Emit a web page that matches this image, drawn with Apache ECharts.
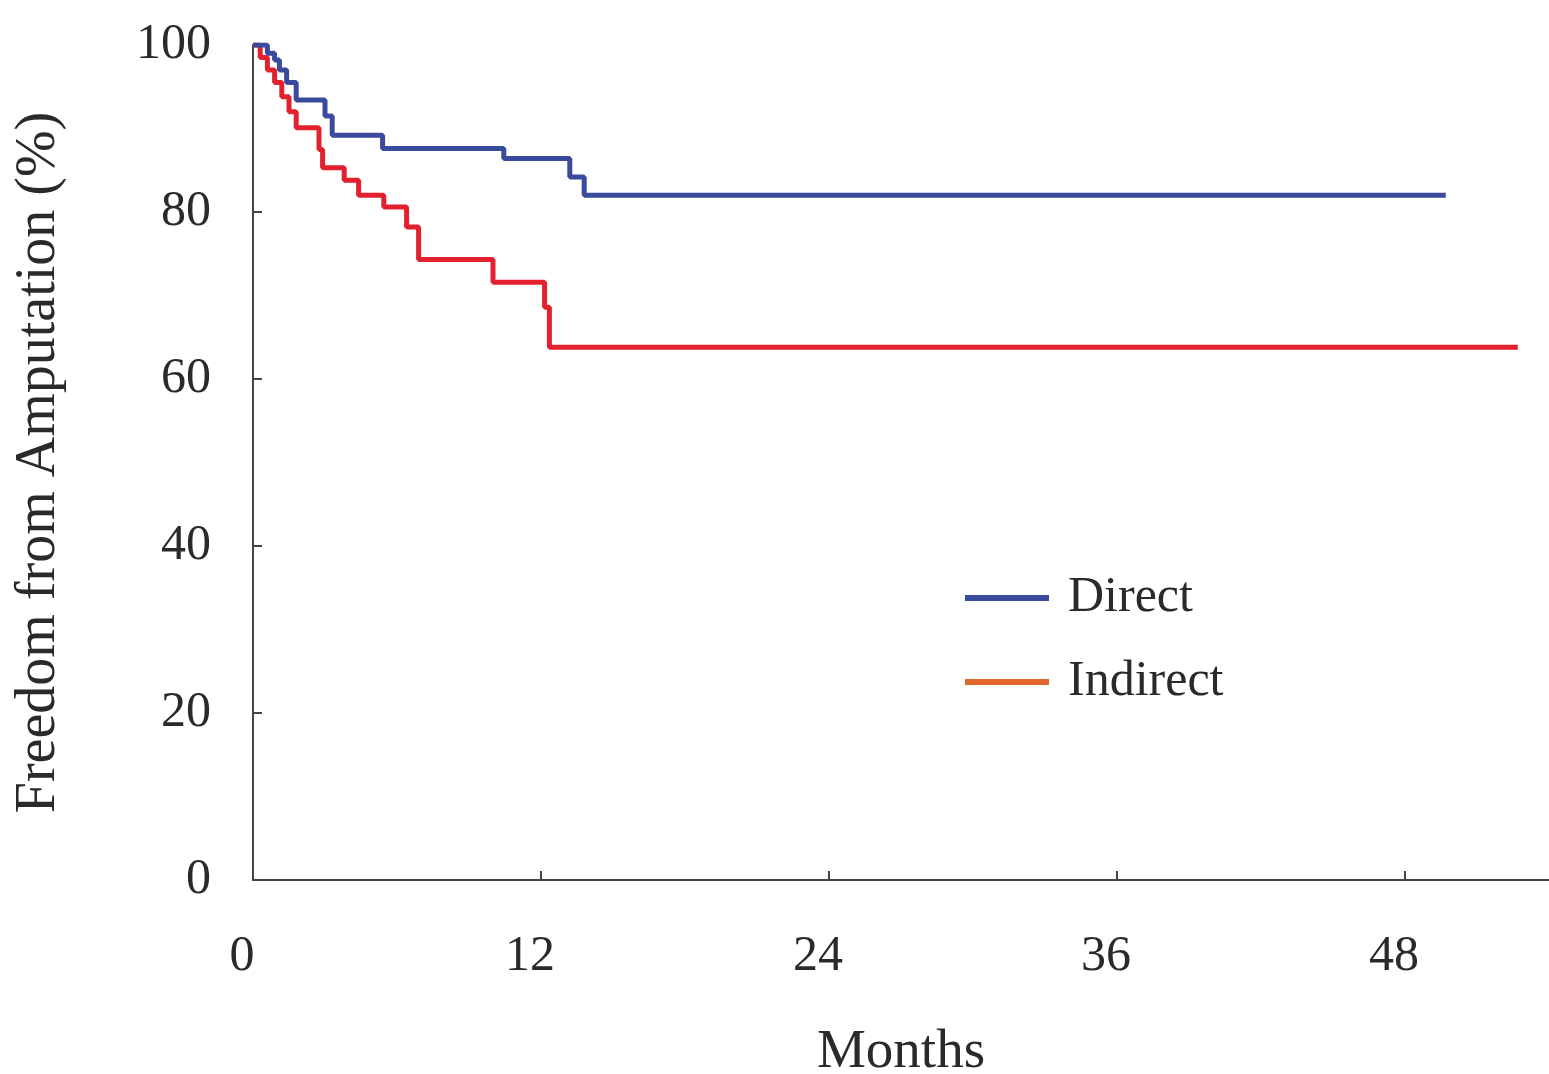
<!DOCTYPE html>
<html>
<head>
<meta charset="utf-8">
<script src="https://cdn.jsdelivr.net/npm/echarts@6/dist/echarts.min.js"></script>
<style>html,body{margin:0;padding:0;background:#fff;}#c{width:1549px;height:1074px;}</style>
</head>
<body>
<div id="c"></div>
<script>
// Kaplan-Meier step data (months, freedom from amputation %)
const directTime = [0, 0.6, 0.9, 1.1, 1.4, 1.8, 3.0, 3.3, 5.4, 10.45, 13.2, 13.8, 49.7];
const directSurv = [100, 99, 98.2, 97, 95.5, 93.4, 91.5, 89.2, 87.6, 86.4, 84.2, 82.0, 82.0];
const indirectTime = [0, 0.3, 0.6, 0.9, 1.2, 1.5, 1.8, 2.75, 2.9, 3.8, 4.4, 5.45, 6.4, 6.9, 10.0, 12.15, 12.35, 52.7];
const indirectSurv = [100, 98.5, 97, 95.5, 93.8, 92, 90.1, 87.5, 85.3, 83.8, 82.0, 80.6, 78.2, 74.3, 71.6, 68.6, 63.8, 63.8];
const xTicks = [0, 12, 24, 36, 48];
const yTicks = [0, 20, 40, 60, 80, 100];

const pairs = (t, v) => t.map((x, i) => [x, v[i]]);
const FONT = '"Liberation Serif", "DejaVu Serif", serif';
const TXT = '#2a2a2a';

const chart = echarts.init(document.getElementById('c'));
chart.setOption({
  backgroundColor: '#fff',
  animation: false,
  grid: { left: 253, right: 0, top: 45, bottom: 194, containLabel: false, outerBoundsMode: 'none' },
  xAxis: {
    type: 'value', min: 0, max: 54, interval: 12,
    name: 'Months', nameLocation: 'middle', nameGap: 145,
    nameTextStyle: { fontFamily: FONT, fontSize: 55, color: TXT },
    axisLine: { show: true, lineStyle: { color: '#444', width: 2 } },
    axisTick: { show: true, inside: true, length: 9, lineStyle: { color: '#444', width: 2 } },
    axisLabel: { fontFamily: FONT, fontSize: 50, color: TXT, margin: 52, padding: [0, 22, 0, 0], showMaxLabel: false,
      formatter: v => xTicks.includes(v) ? String(v) : '' },
    splitLine: { show: false }
  },
  yAxis: {
    type: 'value', min: 0, max: 100, interval: 20,
    name: 'Freedom from Amputation (%)', nameLocation: 'middle', nameGap: 186,
    nameTextStyle: { fontFamily: FONT, fontSize: 56, color: TXT },
    axisLine: { show: true, lineStyle: { color: '#444', width: 2 } },
    axisTick: { show: true, inside: true, length: 9, lineStyle: { color: '#444', width: 2 } },
    axisLabel: { fontFamily: FONT, fontSize: 50, color: TXT, margin: 42,
      formatter: v => yTicks.includes(v) ? String(v) : '' },
    splitLine: { show: false }
  },
  legend: {
    orient: 'vertical', left: 960, top: 568,
    itemWidth: 84, itemHeight: 6, itemGap: 34,
    textStyle: { fontFamily: FONT, fontSize: 50, color: TXT, padding: [0, 0, 0, 14] },
    data: [
      { name: 'Direct', icon: 'rect', itemStyle: { color: '#3a4a9c' } },
      { name: 'Indirect', icon: 'rect', itemStyle: { color: '#e0662c' } }
    ]
  },
  series: [
    { name: 'Direct', type: 'line', step: 'end', showSymbol: false, symbol: 'none',
      data: pairs(directTime, directSurv),
      lineStyle: { color: '#3a4a9c', width: 5 }, itemStyle: { color: '#3a4a9c' }, z: 3 },
    { name: 'Indirect', type: 'line', step: 'end', showSymbol: false, symbol: 'none',
      data: pairs(indirectTime, indirectSurv),
      lineStyle: { color: '#e2202e', width: 5 }, itemStyle: { color: '#e2202e' }, z: 2 }
  ]
});
</script>
</body>
</html>
